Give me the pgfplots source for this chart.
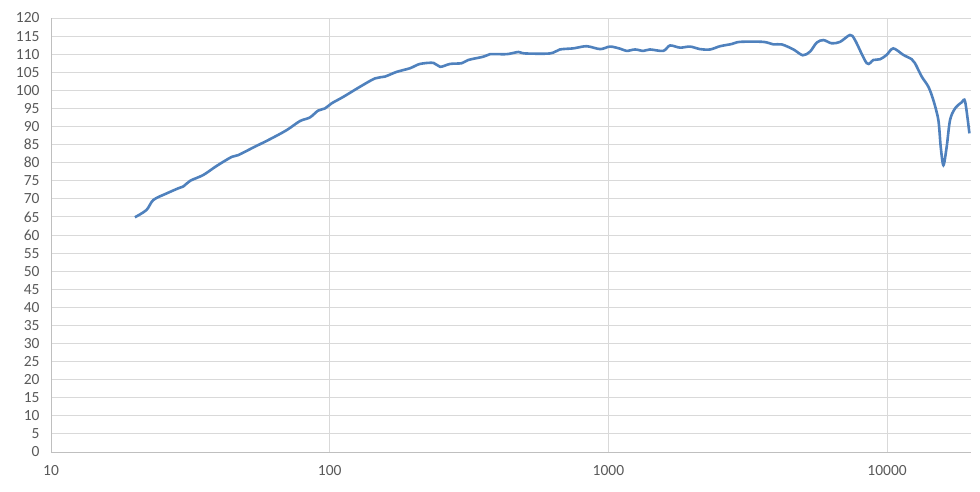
\documentclass[border=0pt]{standalone}
\usepackage{pgfplots}
\pgfplotsset{compat=1.18}
\usepackage{fontspec}
\setmainfont{Carlito}
\definecolor{lineblue}{HTML}{4F81BD}
\definecolor{gridgray}{HTML}{D9D9D9}
\definecolor{axisgray}{HTML}{BFBFBF}
\definecolor{labelgray}{HTML}{595959}
\pgfplotstableread{
f y
20 64.9
22 66.9
23.3 69.7
26 71.5
28.6 72.9
29.8 73.4
31.6 75.0
35.2 76.6
39.3 79.1
44.5 81.6
47 82.1
53.2 84.2
61.1 86.5
70.1 89.0
78.2 91.5
84.9 92.5
90.9 94.4
96.2 95.0
101.6 96.4
111.9 98.2
128.5 101.0
145.4 103.3
157.8 103.8
173.8 105.1
194 106.1
210.8 107.3
235.5 107.6
248.9 106.5
270.3 107.3
297.6 107.5
314.3 108.4
355.8 109.3
376 110.0
431.5 110.0
475.3 110.6
502 110.2
617 110.2
670 111.3
748 111.6
835 112.2
934 111.4
1014 112.1
1103 111.5
1163 110.9
1246 111.3
1334 110.9
1409 111.3
1573 110.9
1663 112.4
1806 111.8
1963 112.1
2132 111.4
2316 111.3
2515 112.2
2768 112.8
2965 113.4
3596 113.4
3909 112.7
4189 112.7
4613 111.3
4982 109.7
5290 110.7
5591 113.2
5907 113.9
6327 113.0
6780 113.4
7362 115.3
7673 113.9
8453 107.5
8931 108.4
9437 108.6
9960 109.8
10521 111.6
11430 109.8
12250 108.6
12590 107.5
13310 103.8
14060 101.0
14650 97.3
15270 91.8
15570 84.4
15920 79.3
16360 84.4
16820 91.8
17530 95.0
18530 96.7
19050 96.9
19740 88.1
}\datatable
\begin{document}
\begin{tikzpicture}
\path[use as bounding box] (-51pt,-39pt) rectangle (929pt,452pt);
\begin{axis}[
  at={(0,0)}, anchor=south west,
  scale only axis,
  width=920pt, height=434pt,
  xmode=log,
  xmin=10, xmax=20000,
  ymin=0, ymax=120,
  ytick distance=5,
  xtick={10,100,1000,10000},
  xticklabels={10,100,1000,10000},
  minor xtick={},
  major tick length=0pt,
  minor tick length=0pt,
  xmajorgrids, ymajorgrids,
  major grid style={gridgray, line width=1pt},
  axis x line*=bottom, axis y line*=left,
  axis line style={axisgray, line width=1pt},
  tick label style={font=\fontsize{15.5}{18}\selectfont, text=labelgray},
  /pgf/number format/assume math mode=true,
  yticklabel style={xshift=-8pt},
  xticklabel style={yshift=-10pt},
  clip=true,
]
\addplot[lineblue, line width=2.6pt, smooth, tension=0.5] table[x=f, y=y] {\datatable};
\end{axis}
\end{tikzpicture}
\end{document}
